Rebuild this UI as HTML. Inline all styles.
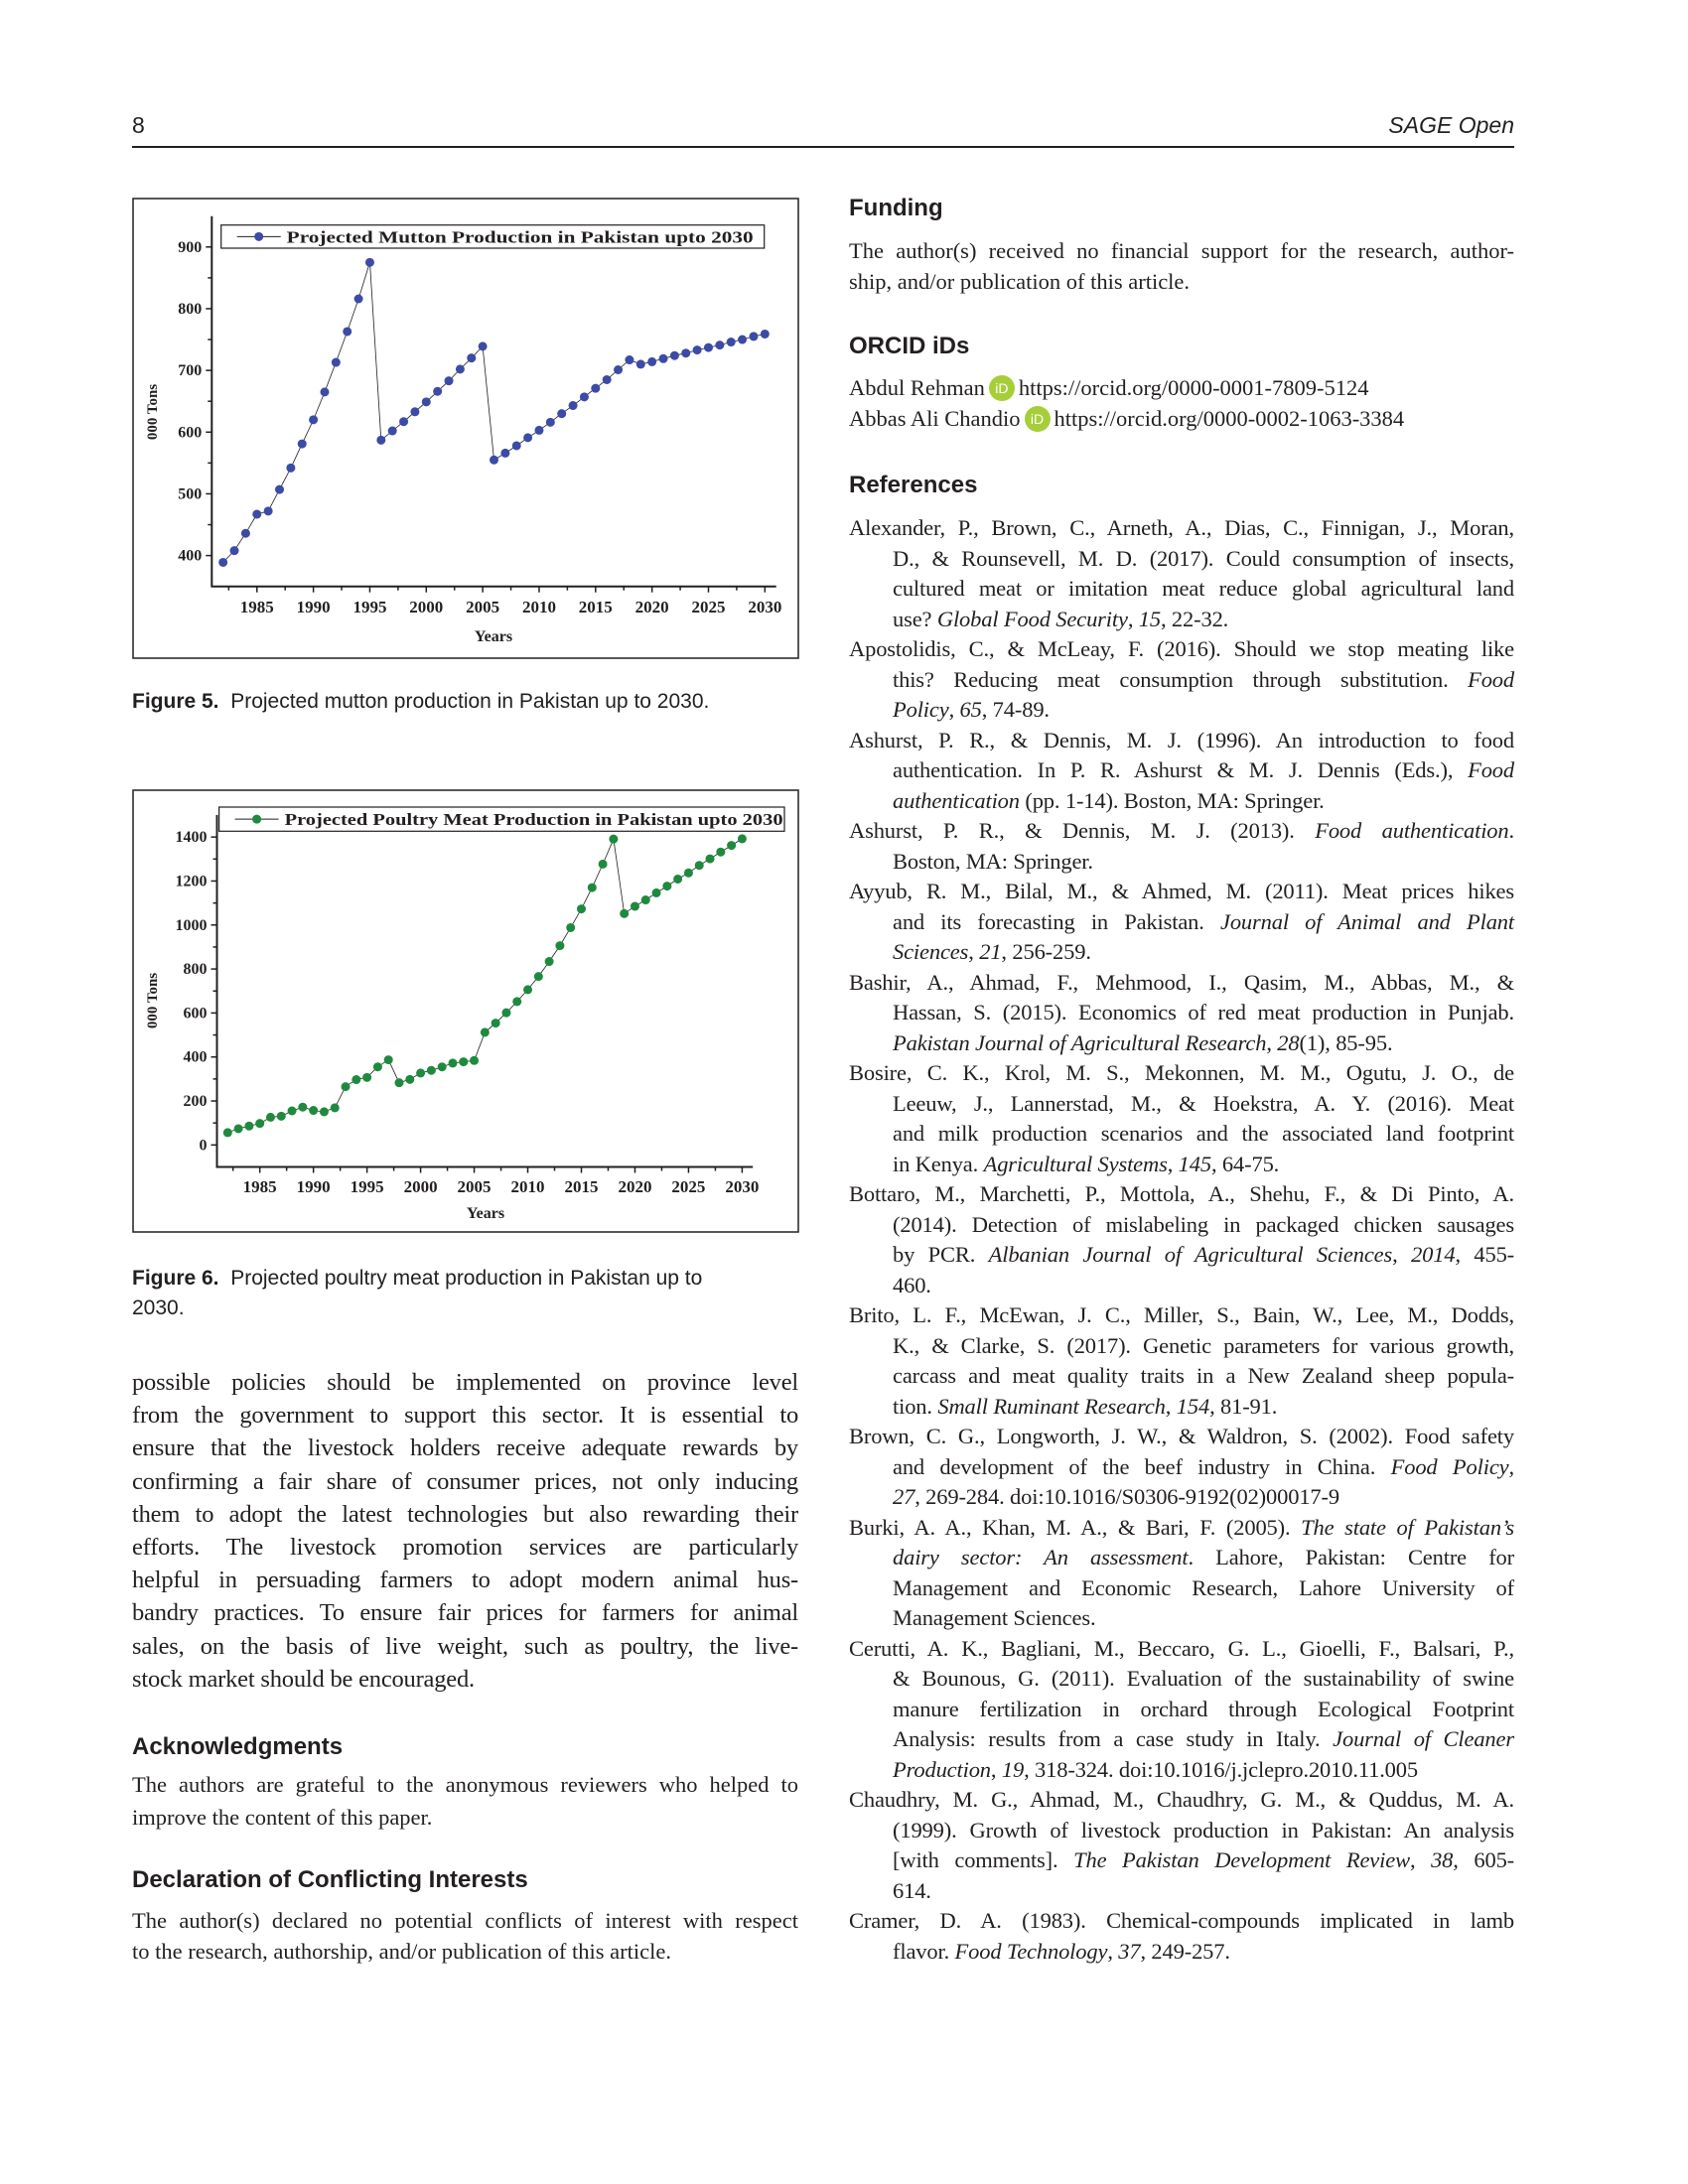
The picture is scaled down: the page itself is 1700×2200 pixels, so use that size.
<!DOCTYPE html>
<html><head><meta charset="utf-8">
<style>
html{width:1700px;height:2200px;overflow:hidden;}
html,body{margin:0;padding:0;background:#fff;}
body{width:1700px;height:2200px;position:relative;overflow:hidden;font-family:"Liberation Serif",serif;color:#231f20;}
.abs{position:absolute;}
.h{font-family:"Liberation Sans",sans-serif;font-weight:bold;font-size:24px;line-height:30px;}
.cap{font-family:"Liberation Sans",sans-serif;font-size:21px;line-height:30px;}
.cap b{font-weight:bold;}
.body{font-size:24.5px;line-height:33.2px;width:671px;letter-spacing:-0.2px;}
.sm{font-size:22.5px;width:671px;}
.smr{font-size:22.5px;width:670px;}
.j{text-align:justify;text-align-last:justify;white-space:nowrap;}
.l{text-align:left;white-space:nowrap;}
.refs{font-size:22.5px;line-height:30.5px;width:670px;letter-spacing:-0.15px;}
.refs .ind{padding-left:44px;}
.orc{display:inline-block;width:26px;height:26px;border-radius:13px;background:#a6ce39;color:#fff;font-family:"Liberation Sans",sans-serif;font-size:14px;line-height:26px;text-align:center;vertical-align:2px;margin:0 4px;}
svg text{font-family:"Liberation Serif",serif;font-weight:bold;fill:#231f20;}
</style></head>
<body>
<div class="abs" style="left:133px;top:113px;font-family:'Liberation Sans',sans-serif;font-size:23px;">8</div>
<div class="abs" style="right:175px;top:113px;font-family:'Liberation Sans',sans-serif;font-style:italic;font-size:23px;">SAGE Open</div>
<div class="abs" style="left:133px;top:147px;width:1392px;height:1.5px;background:#231f20;"></div>

<svg class="abs" style="left:0;top:0" width="1700" height="1300">
  <g id="chart1"></g>
  <g id="chart2"></g>
</svg>

<div class="abs cap" style="left:133px;top:692px;"><b>Figure 5.</b>&nbsp; Projected mutton production in Pakistan up to 2030.</div>
<div class="abs cap" style="left:133px;top:1273px;width:671px;"><b>Figure 6.</b>&nbsp; Projected poultry meat production in Pakistan up to<br>2030.</div>

<div class="abs body" style="left:133px;top:1376px;">
<div class="j">possible policies should be implemented on province level</div>
<div class="j">from the government to support this sector. It is essential to</div>
<div class="j">ensure that the livestock holders receive adequate rewards by</div>
<div class="j">confirming a fair share of consumer prices, not only inducing</div>
<div class="j">them to adopt the latest technologies but also rewarding their</div>
<div class="j">efforts. The livestock promotion services are particularly</div>
<div class="j">helpful in persuading farmers to adopt modern animal hus-</div>
<div class="j">bandry practices. To ensure fair prices for farmers for animal</div>
<div class="j">sales, on the basis of live weight, such as poultry, the live-</div>
<div class="l">stock market should be encouraged.</div>
</div>

<div class="abs h" style="left:133px;top:1745px;">Acknowledgments</div>
<div class="abs sm" style="left:133px;top:1781px;line-height:33px;">
<div class="j">The authors are grateful to the anonymous reviewers who helped to</div>
<div class="l">improve the content of this paper.</div></div>
<div class="abs h" style="left:133px;top:1879px;">Declaration of Conflicting Interests</div>
<div class="abs sm" style="left:133px;top:1919px;line-height:31px;">
<div class="j">The author(s) declared no potential conflicts of interest with respect</div>
<div class="l">to the research, authorship, and/or publication of this article.</div></div>

<div class="abs h" style="left:855px;top:195px;">Funding</div>
<div class="abs smr" style="left:855px;top:237px;line-height:31px;">
<div class="j">The author(s) received no financial support for the research, author-</div>
<div class="l">ship, and/or publication of this article.</div></div>
<div class="abs h" style="left:855px;top:334px;">ORCID iDs</div>
<div class="abs smr" style="left:855px;top:375px;line-height:31px;">
<div class="l">Abdul Rehman<span class="orc">iD</span>https://orcid.org/0000-0001-7809-5124</div>
<div class="l">Abbas Ali Chandio<span class="orc">iD</span>https://orcid.org/0000-0002-1063-3384</div></div>
<div class="abs h" style="left:855px;top:474px;">References</div>

<div class="abs refs" style="left:855px;top:517px;">
<div class="j">Alexander, P., Brown, C., Arneth, A., Dias, C., Finnigan, J., Moran,</div>
<div class="j ind">D., &amp; Rounsevell, M. D. (2017). Could consumption of insects,</div>
<div class="j ind">cultured meat or imitation meat reduce global agricultural land</div>
<div class="l ind">use? <i>Global Food Security</i>, <i>15</i>, 22-32.</div>
<div class="j">Apostolidis, C., &amp; McLeay, F. (2016). Should we stop meating like</div>
<div class="j ind">this? Reducing meat consumption through substitution. <i>Food</i></div>
<div class="l ind"><i>Policy</i>, <i>65</i>, 74-89.</div>
<div class="j">Ashurst, P. R., &amp; Dennis, M. J. (1996). An introduction to food</div>
<div class="j ind">authentication. In P. R. Ashurst &amp; M. J. Dennis (Eds.), <i>Food</i></div>
<div class="l ind"><i>authentication</i> (pp. 1-14). Boston, MA: Springer.</div>
<div class="j">Ashurst, P. R., &amp; Dennis, M. J. (2013). <i>Food authentication</i>.</div>
<div class="l ind">Boston, MA: Springer.</div>
<div class="j">Ayyub, R. M., Bilal, M., &amp; Ahmed, M. (2011). Meat prices hikes</div>
<div class="j ind">and its forecasting in Pakistan. <i>Journal of Animal and Plant</i></div>
<div class="l ind"><i>Sciences</i>, <i>21</i>, 256-259.</div>
<div class="j">Bashir, A., Ahmad, F., Mehmood, I., Qasim, M., Abbas, M., &amp;</div>
<div class="j ind">Hassan, S. (2015). Economics of red meat production in Punjab.</div>
<div class="l ind"><i>Pakistan Journal of Agricultural Research</i>, <i>28</i>(1), 85-95.</div>
<div class="j">Bosire, C. K., Krol, M. S., Mekonnen, M. M., Ogutu, J. O., de</div>
<div class="j ind">Leeuw, J., Lannerstad, M., &amp; Hoekstra, A. Y. (2016). Meat</div>
<div class="j ind">and milk production scenarios and the associated land footprint</div>
<div class="l ind">in Kenya. <i>Agricultural Systems</i>, <i>145</i>, 64-75.</div>
<div class="j">Bottaro, M., Marchetti, P., Mottola, A., Shehu, F., &amp; Di Pinto, A.</div>
<div class="j ind">(2014). Detection of mislabeling in packaged chicken sausages</div>
<div class="j ind">by PCR. <i>Albanian Journal of Agricultural Sciences</i>, <i>2014</i>, 455-</div>
<div class="l ind">460.</div>
<div class="j">Brito, L. F., McEwan, J. C., Miller, S., Bain, W., Lee, M., Dodds,</div>
<div class="j ind">K., &amp; Clarke, S. (2017). Genetic parameters for various growth,</div>
<div class="j ind">carcass and meat quality traits in a New Zealand sheep popula-</div>
<div class="l ind">tion. <i>Small Ruminant Research</i>, <i>154</i>, 81-91.</div>
<div class="j">Brown, C. G., Longworth, J. W., &amp; Waldron, S. (2002). Food safety</div>
<div class="j ind">and development of the beef industry in China. <i>Food Policy</i>,</div>
<div class="l ind"><i>27</i>, 269-284. doi:10.1016/S0306-9192(02)00017-9</div>
<div class="j">Burki, A. A., Khan, M. A., &amp; Bari, F. (2005). <i>The state of Pakistan’s</i></div>
<div class="j ind"><i>dairy sector: An assessment</i>. Lahore, Pakistan: Centre for</div>
<div class="j ind">Management and Economic Research, Lahore University of</div>
<div class="l ind">Management Sciences.</div>
<div class="j">Cerutti, A. K., Bagliani, M., Beccaro, G. L., Gioelli, F., Balsari, P.,</div>
<div class="j ind">&amp; Bounous, G. (2011). Evaluation of the sustainability of swine</div>
<div class="j ind">manure fertilization in orchard through Ecological Footprint</div>
<div class="j ind">Analysis: results from a case study in Italy. <i>Journal of Cleaner</i></div>
<div class="l ind"><i>Production</i>, <i>19</i>, 318-324. doi:10.1016/j.jclepro.2010.11.005</div>
<div class="j">Chaudhry, M. G., Ahmad, M., Chaudhry, G. M., &amp; Quddus, M. A.</div>
<div class="j ind">(1999). Growth of livestock production in Pakistan: An analysis</div>
<div class="j ind">[with comments]. <i>The Pakistan Development Review</i>, <i>38</i>, 605-</div>
<div class="l ind">614.</div>
<div class="j">Cramer, D. A. (1983). Chemical-compounds implicated in lamb</div>
<div class="l ind">flavor. <i>Food Technology</i>, <i>37</i>, 249-257.</div>
</div>

<script>
const years = [1982,1983,1984,1985,1986,1987,1988,1989,1990,1991,1992,1993,1994,1995,1996,1997,1998,1999,2000,2001,2002,2003,2004,2005,2006,2007,2008,2009,2010,2011,2012,2013,2014,2015,2016,2017,2018,2019,2020,2021,2022,2023,2024,2025,2026,2027,2028,2029,2030];
const muttonValues = [389,408,436,467,472,507,542,581,620,665,713,763,816,875,587,602,617,633,649,666,683,702,720,739,555,566,578,591,603,616,630,643,657,671,685,701,717,710,714,719,724,728,733,737,741,746,750,755,759];
const poultryValues = [56,74,86,98,126,131,155,172,157,151,169,265,297,307,355,387,283,298,327,339,355,372,378,384,512,554,601,652,706,766,834,906,988,1073,1170,1277,1391,1052,1085,1114,1146,1177,1209,1237,1271,1301,1332,1362,1392];
const xTickLabels = [1985,1990,1995,2000,2005,2010,2015,2020,2025,2030];
const muttonYTicks = [400,500,600,700,800,900];
const poultryYTicks = [0,200,400,600,800,1000,1200,1400];

const NS = "http://www.w3.org/2000/svg";
function mk(parent, tag, attrs){
  const e = document.createElementNS(NS, tag);
  for (const k in attrs) e.setAttribute(k, attrs[k]);
  parent.appendChild(e);
  return e;
}

function drawChart(g, cfg, values, yTicks){
  const xS = y => cfg.x0 + (y - cfg.xmin) / (cfg.xmax - cfg.xmin) * (cfg.x1 - cfg.x0);
  const yS = v => cfg.y0 - (v - cfg.ymin) / (cfg.ymax - cfg.ymin) * (cfg.y0 - cfg.y1);
  const box = mk(g, 'rect', {x:cfg.bx, y:cfg.by, width:cfg.bw, height:cfg.bh, fill:'none', stroke:'#231f20', 'stroke-width':1.5});
  
  
  const ax = mk(g, 'path', {d:`M${cfg.x0},${cfg.y1} L${cfg.x0},${cfg.y0} L${cfg.x1},${cfg.y0}`, fill:'none', stroke:'#231f20', 'stroke-width':2});
  
  
  for (let yr = 1982.5; yr <= 2030.5; yr += 2.5){
    const major = Math.abs(yr % 5) < 0.01;
    const x = xS(yr);
    mk(g, 'line', {x1:x, x2:x, y1:cfg.y0, y2:cfg.y0 + (major ? 6 : 4), stroke:'#231f20', 'stroke-width':1.5});
  }
  xTickLabels.forEach(yr => {
    const t = mk(g, 'text', {x:xS(yr), y:cfg.xly, 'text-anchor':'middle', 'font-size':17});
    t.textContent = yr;
    
    
  });
  for (let v = cfg.ymin + cfg.minor; v < cfg.ymax; v += cfg.minor){
    const major = yTicks.indexOf(v) >= 0;
    const y = yS(v);
    mk(g, 'line', {x1:cfg.x0, x2:cfg.x0 - (major ? 6 : 4), y1:y, y2:y, stroke:'#231f20', 'stroke-width':1.5});
  }
  yTicks.forEach(v => {
    const t = mk(g, 'text', {x:cfg.x0 - 10, y:yS(v) + 5, 'text-anchor':'end', 'font-size':16});
    t.textContent = v;
    
    
  });
  const xt = mk(g, 'text', {x:cfg.xtx, y:cfg.xty, 'text-anchor':'middle', 'font-size':16});
  xt.textContent = 'Years';
  
  
  const yt = mk(g, 'text', {x:0, y:0, 'text-anchor':'middle', 'font-size':15, transform:`translate(${cfg.ytx},${cfg.yty}) rotate(-90)`});
  yt.textContent = '000 Tons';
  
  
  const pts = years.map((yr, i) => `${xS(yr).toFixed(1)},${yS(values[i]).toFixed(1)}`).join(' ');
  const pl = mk(g, 'polyline', {points:pts, fill:'none', stroke:'#231f20', 'stroke-width':0.8});
  
  
  years.forEach((yr, i) => {
    const c = mk(g, 'circle', {cx:xS(yr), cy:yS(values[i]), r:4.5, fill:cfg.color});
    
    
  });
  const lg = mk(g, 'g', {});
  
  
  mk(lg, 'rect', {x:cfg.lx, y:cfg.ly, width:cfg.lw, height:cfg.lh, fill:'#fff', stroke:'#231f20', 'stroke-width':1.2});
  const my = cfg.ly + cfg.lh/2;
  mk(lg, 'line', {x1:cfg.lx + 16, x2:cfg.lx + 60, y1:my, y2:my, stroke:'#231f20', 'stroke-width':1});
  mk(lg, 'circle', {cx:cfg.lx + 38, cy:my, r:4.5, fill:cfg.color});
  const lt = mk(lg, 'text', {x:cfg.lx + 66, y:my + 6, 'font-size':17, textLength:cfg.ltl, lengthAdjust:'spacingAndGlyphs'});
  lt.textContent = cfg.label;
}

drawChart(document.getElementById('chart1'), {
  x0:213.3, x1:781.7, xmin:1981, xmax:2031,
  y0:590.7, y1:217.7, ymin:350, ymax:950, minor:50,
  bx:134, by:200, bw:670, bh:463, xly:617, xtx:497, xty:646, ytx:158, yty:415,
  lx:222.7, ly:226.7, lw:547, lh:23.3, ltl:470,
  color:'#3b4ba6', label:'Projected Mutton Production in Pakistan upto 2030'
}, muttonValues, muttonYTicks);

drawChart(document.getElementById('chart2'), {
  x0:218.5, x1:758.2, xmin:1981, xmax:2031,
  y0:1175.5, y1:821, ymin:-100, ymax:1500, minor:100,
  bx:134, by:796, bw:670, bh:445, xly:1201, xtx:489, xty:1227, ytx:158, yty:1008,
  lx:220.6, ly:813, lw:569.4, lh:24.3, ltl:502,
  color:'#1e8a3e', label:'Projected Poultry Meat Production in Pakistan upto 2030'
}, poultryValues, poultryYTicks);
</script>
</body></html>
